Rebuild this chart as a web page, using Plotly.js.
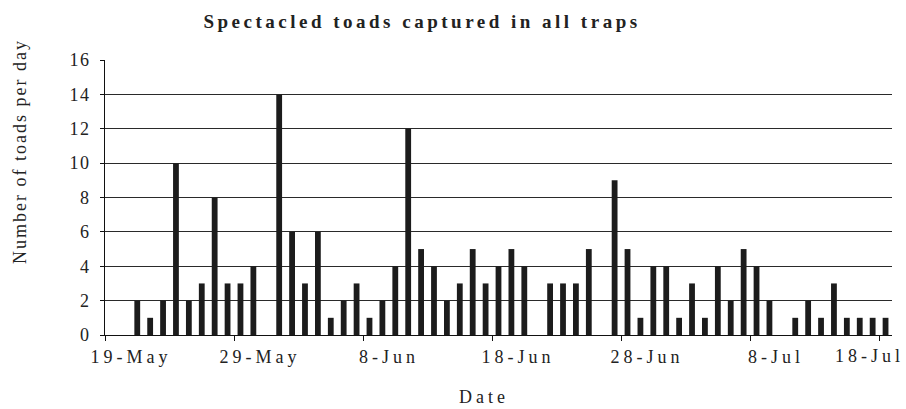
<!DOCTYPE html>
<html>
<head>
<meta charset="utf-8">
<script src="https://cdn.plot.ly/plotly-3.0.1.min.js"></script>
<style>
  html, body { margin: 0; padding: 0; background: #fff; }
  #chart { width: 906px; height: 409px; }
  .gtitle { letter-spacing: 3.5px; }
  .xtick text { letter-spacing: 4px; }
  .ytick text { letter-spacing: 1.5px; }
  g.annotation[data-index="0"] text { letter-spacing: 2px; }
  g.annotation[data-index="1"] text { letter-spacing: 4px; }
  g.annotation[data-index="2"] text { letter-spacing: 4px; }
</style>
</head>
<body>
<div id="chart"></div>
<script>
// Chart data
const dates = [
  '2013-05-19','2013-05-20','2013-05-21','2013-05-22','2013-05-23','2013-05-24','2013-05-25',
  '2013-05-26','2013-05-27','2013-05-28','2013-05-29','2013-05-30','2013-05-31',
  '2013-06-01','2013-06-02','2013-06-03','2013-06-04','2013-06-05','2013-06-06','2013-06-07',
  '2013-06-08','2013-06-09','2013-06-10','2013-06-11','2013-06-12','2013-06-13','2013-06-14',
  '2013-06-15','2013-06-16','2013-06-17','2013-06-18','2013-06-19','2013-06-20','2013-06-21',
  '2013-06-22','2013-06-23','2013-06-24','2013-06-25','2013-06-26','2013-06-27','2013-06-28',
  '2013-06-29','2013-06-30',
  '2013-07-01','2013-07-02','2013-07-03','2013-07-04','2013-07-05','2013-07-06','2013-07-07',
  '2013-07-08','2013-07-09','2013-07-10','2013-07-11','2013-07-12','2013-07-13','2013-07-14',
  '2013-07-15','2013-07-16','2013-07-17','2013-07-18'
];
const toadsPerDay = [
  0, 0, 2, 1, 2, 10, 2,
  3, 8, 3, 3, 4, 0,
  14, 6, 3, 6, 1, 2, 3,
  1, 2, 4, 12, 5, 4, 2,
  3, 5, 3, 4, 5, 4, 0,
  3, 3, 3, 5, 0, 9, 5,
  1, 4,
  4, 1, 3, 1, 4, 2, 5,
  4, 2, 0, 1, 2, 1, 3,
  1, 1, 1, 1
];
const tickDates = ['2013-05-19','2013-05-29','2013-06-08','2013-06-18','2013-06-28','2013-07-08','2013-07-18'];
const tickLabels = ['19-May','29-May','8-Jun','18-Jun','28-Jun','8-Jul','18-Jul'];
const yTicks = [0, 2, 4, 6, 8, 10, 12, 14, 16];
const axisRange = ['2013-05-19', '2013-07-19'];

const serif = '"Times New Roman", "Liberation Serif", "DejaVu Serif", serif';
const ink = '#1c1c1c';
const last = tickLabels.length - 1;

const trace = {
  type: 'bar',
  x: dates,
  y: toadsPerDay,
  xperiod: 86400000,
  xperiodalignment: 'middle',
  marker: { color: ink, line: { width: 0 } },
  hoverinfo: 'x+y'
};

const tickFont = { family: serif, size: 18, color: '#222' };

const layout = {
  width: 906,
  height: 409,
  margin: { l: 105, r: 14, t: 60, b: 74 },
  paper_bgcolor: '#ffffff',
  plot_bgcolor: '#ffffff',
  showlegend: false,
  bargap: 0.55,
  font: { family: serif, color: '#222', size: 18 },
  title: {
    text: 'Spectacled toads captured in all traps',
    font: { family: serif, size: 19, color: '#222', weight: 'bold' },
    x: 422 / 906, xref: 'container', xanchor: 'center',
    y: 1 - 21 / 409, yref: 'container', yanchor: 'middle'
  },
  xaxis: {
    type: 'date',
    range: axisRange,
    tickmode: 'array',
    tickvals: tickDates,
    ticktext: tickLabels.map((t, i) => i === last ? '' : t),
    ticks: 'outside',
    ticklen: 5,
    tickwidth: 1,
    tickcolor: '#111',
    ticklabelshift: 26,
    ticklabeloverflow: 'allow',
    showgrid: false,
    zeroline: false,
    showline: true,
    linecolor: '#111',
    linewidth: 1,
    tickfont: tickFont,
    fixedrange: true
  },
  yaxis: {
    range: [0, 16],
    tickmode: 'array',
    tickvals: yTicks,
    ticktext: yTicks.map(String),
    ticks: 'outside',
    ticklen: 4,
    tickcolor: '#111',
    ticklabelstandoff: 6,
    showgrid: true,
    gridcolor: '#2a2a2a',
    gridwidth: 1,
    zeroline: false,
    showline: true,
    linecolor: '#111',
    linewidth: 1,
    tickfont: tickFont,
    fixedrange: true
  },
  annotations: [
    {
      text: 'Number of toads per day',
      textangle: -90,
      xref: 'paper', yref: 'paper',
      x: (20 - 105) / 787, y: (335 - 152) / 275,
      xanchor: 'center', yanchor: 'middle',
      showarrow: false,
      font: { family: serif, size: 18, color: '#222' }
    },
    {
      text: 'Date',
      xref: 'paper', yref: 'paper',
      x: (484 - 105) / 787, y: (335 - 397) / 275,
      xanchor: 'center', yanchor: 'middle',
      showarrow: false,
      font: { family: serif, size: 18, color: '#222' }
    },
    {
      // last date label, kept inside the page as in the reference
      text: tickLabels[last],
      xref: 'x', yref: 'y',
      x: tickDates[last], y: 0,
      xanchor: 'center', yanchor: 'middle',
      xshift: -10, yshift: -21,
      showarrow: false,
      font: tickFont
    }
  ]
};

Plotly.newPlot('chart', [trace], layout, { staticPlot: true, displayModeBar: false });
</script>
</body>
</html>
